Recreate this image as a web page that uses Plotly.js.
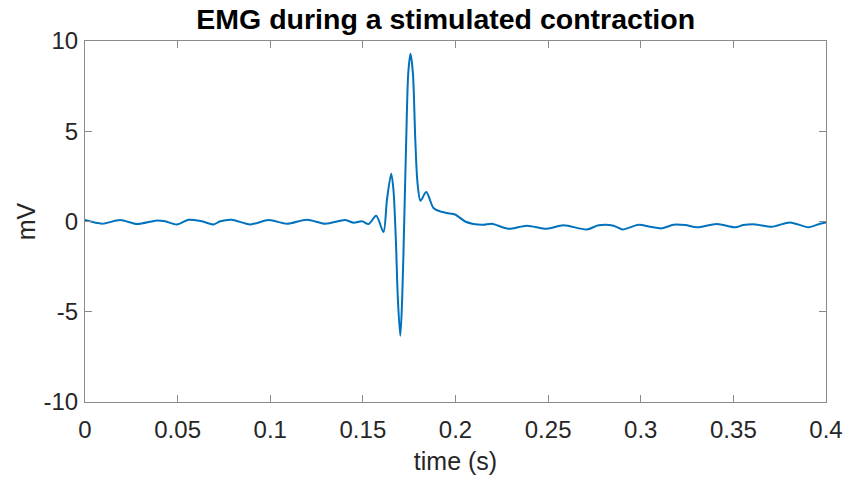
<!DOCTYPE html>
<html>
<head>
<meta charset="utf-8">
<script src="https://cdn.plot.ly/plotly-3.0.1.min.js"></script>
<style>html,body{margin:0;padding:0;background:#fff;}#chart{width:849px;height:480px;}</style>
</head>
<body>
<div id="chart"></div>
<script>
// Time (s) of each read-off sample
const timeS = [
  0.0000, 0.0092, 0.0190, 0.0281, 0.0389, 0.0433, 0.0496, 0.0559, 0.0631, 0.0694,
  0.0730, 0.0790, 0.0892, 0.0991, 0.1090, 0.1198, 0.1297, 0.1405, 0.1450, 0.1495,
  0.1531, 0.1572, 0.1611, 0.1630, 0.1653, 0.1665, 0.1678, 0.1689, 0.1702, 0.1712,
  0.1723, 0.1734, 0.1745, 0.1757, 0.1770, 0.1783, 0.1795, 0.1811, 0.1842, 0.1881,
  0.1917, 0.1954, 0.1998, 0.2052, 0.2097, 0.2151, 0.2196, 0.2286, 0.2385, 0.2493,
  0.2583, 0.2709, 0.2772, 0.2853, 0.2901, 0.2988, 0.3051, 0.3114, 0.3177, 0.3240,
  0.3303, 0.3411, 0.3510, 0.3554, 0.3617, 0.3708, 0.3806, 0.3905, 0.3968, 0.4000
];
// EMG amplitude (mV)
const emgMv = [
  0.08, -0.12, 0.08, -0.14, 0.06, 0.01, -0.16, 0.10, 0.01, -0.16,
  0.01, 0.10, -0.16, 0.08, -0.12, 0.10, -0.12, 0.08, -0.07, 0.01,
  -0.14, 0.32, -0.58, 1.21, 2.65, 1.76, -1.01, -4.33, -6.33, -4.33,
  -0.08, 4.53, 8.23, 9.30, 8.23, 4.53, 2.13, 1.15, 1.63, 0.75,
  0.56, 0.47, 0.39, 0.00, -0.14, -0.18, -0.12, -0.40, -0.23, -0.40,
  -0.21, -0.44, -0.21, -0.23, -0.44, -0.18, -0.29, -0.38, -0.18, -0.20,
  -0.32, -0.14, -0.32, -0.20, -0.16, -0.29, -0.05, -0.32, -0.12, -0.05
];
const xTicks = [0, 0.05, 0.1, 0.15, 0.2, 0.25, 0.3, 0.35, 0.4];
const xTickText = ['0', '0.05', '0.1', '0.15', '0.2', '0.25', '0.3', '0.35', '0.4'];
const yTicks = [-10, -5, 0, 5, 10];
const yTickText = ['-10', '-5', '0', '5', '10'];

const FONT = 'Liberation Sans, Arial, Helvetica, sans-serif';
const axisCommon = {
  showline: true, mirror: 'ticks', linecolor: '#8a8a8a', linewidth: 1,
  ticks: 'inside', ticklen: 7, tickcolor: '#8a8a8a', tickwidth: 1,
  showgrid: false, zeroline: false,
  tickfont: {family: FONT, size: 24, color: '#262626'}
};

Plotly.newPlot('chart', [{
  x: timeS, y: emgMv, type: 'scatter', mode: 'lines',
  line: {color: '#0072BD', width: 2, shape: 'spline', smoothing: 0.8},
  hoverinfo: 'x+y'
}], {
  width: 849, height: 480,
  margin: {l: 85, r: 23, t: 41, b: 78},
  paper_bgcolor: '#ffffff', plot_bgcolor: '#ffffff',
  showlegend: false,
  title: {text: '<b>EMG during a stimulated contraction</b>', x: 0.525, xanchor: 'center', y: 0.982, yanchor: 'top',
          font: {family: FONT, size: 28.5, color: '#000000'}},
  xaxis: Object.assign({}, axisCommon, {
    range: [0, 0.4], tickvals: xTicks, ticktext: xTickText, ticklabelstandoff: 6,
    title: {text: 'time (s)', standoff: 10, font: {family: FONT, size: 25, color: '#262626'}}
  }),
  yaxis: Object.assign({}, axisCommon, {
    range: [-10, 10], tickvals: yTicks, ticktext: yTickText, ticklabelstandoff: 1,
    title: {text: 'mV', standoff: 0, font: {family: FONT, size: 25, color: '#262626'}}
  })
}, {staticPlot: true});
</script>
</body>
</html>
